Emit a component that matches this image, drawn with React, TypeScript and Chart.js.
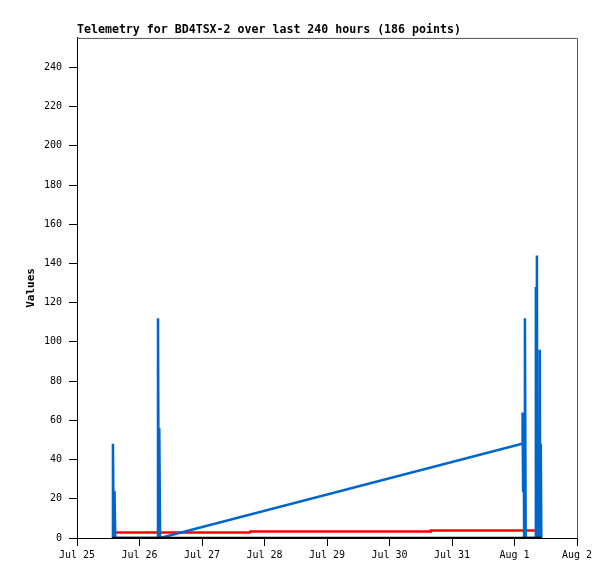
import { useEffect, useRef } from 'react';
import Chart from 'chart.js/auto';

// hours since Jul 25 00:00
const blueHours = [13.5, 13.8, 14.1, 14.4, 14.7, 30.9, 31.1, 31.4, 31.6, 31.9, 170.9, 171.1, 171.3, 171.5, 171.7, 172.0, 172.3, 176.0, 176.2, 176.4, 176.6, 176.8, 177.5, 177.7, 177.9, 178.1, 178.3];
const blueValues = [0, 48, 0, 24, 0, 0, 112, 0, 56, 0, 48, 64, 24, 64, 0, 112, 0, 0, 128, 0, 144, 0, 0, 96, 0, 48, 0];

const redHours = [14.6, 66.3, 66.5, 135.7, 135.9, 176.6, 177.3];
const redValues = [2.8, 2.8, 3.3, 3.3, 3.8, 3.8, 1];

const blackHours = [13.6, 60, 120, 178.3];
const blackValues = [0, 0, 0, 0];

const xTickLabels = ['Jul 25', 'Jul 26', 'Jul 27', 'Jul 28', 'Jul 29', 'Jul 30', 'Jul 31', 'Aug 1', 'Aug 2'];

const toPoints = (xs: number[], ys: number[]) => xs.map((x, i) => ({ x, y: ys[i] }));

const frame = {
    id: 'frame',
    afterDraw(chart: Chart) {
        const { ctx, chartArea } = chart;
        ctx.save();
        ctx.strokeStyle = '#555555';
        ctx.lineWidth = 1;
        ctx.beginPath();
        ctx.moveTo(chartArea.left, chartArea.top + 0.5);
        ctx.lineTo(chartArea.right + 0.5, chartArea.top + 0.5);
        ctx.lineTo(chartArea.right + 0.5, chartArea.bottom);
        ctx.stroke();
        ctx.restore();
    }
};

export default function App() {
    const canvasRef = useRef<HTMLCanvasElement>(null);

    useEffect(() => {
        if (!canvasRef.current) return;
        const mono = 'DejaVu Sans Mono';

        const chart = new Chart(canvasRef.current, {
            type: 'line',
            data: {
                datasets: [
                    { data: toPoints(blackHours, blackValues), borderColor: '#000000', borderWidth: 2.5, pointRadius: 0, tension: 0 },
                    { data: toPoints(blueHours, blueValues), borderColor: '#0066CC', borderWidth: 2.5, pointRadius: 0, tension: 0 },
                    { data: toPoints(redHours, redValues), borderColor: '#FF0000', borderWidth: 2.5, pointRadius: 0, tension: 0 }
                ]
            },
            options: {
                animation: false,
                responsive: false,
                devicePixelRatio: 1,
                layout: { padding: { left: 0, right: 38, top: 0, bottom: 0 } },
                plugins: {
                    legend: { display: false },
                    tooltip: { enabled: false },
                    title: {
                        display: true,
                        text: 'Telemetry for BD4TSX-2 over last 240 hours (186 points)',
                        align: 'start',
                        fullSize: false,
                        color: '#000000',
                        font: { family: mono, size: 11.6, weight: 'bold' },
                        padding: { top: 23, bottom: 1 }
                    }
                },
                scales: {
                    x: {
                        type: 'linear',
                        min: 0,
                        max: 192,
                        border: { color: '#000000' },
                        grid: { drawOnChartArea: false, color: '#000000', tickLength: 8 },
                        ticks: {
                            stepSize: 24,
                            autoSkip: false,
                            maxRotation: 0,
                            padding: 3,
                            color: '#000000',
                            font: { family: mono, size: 10 },
                            callback: (v) => xTickLabels[Math.round(Number(v) / 24)] ?? ''
                        },
                        afterFit: (scale) => { scale.height = 41; }
                    },
                    y: {
                        min: 0,
                        max: 255,
                        border: { color: '#000000' },
                        grid: { drawOnChartArea: false, color: '#000000', tickLength: 8 },
                        ticks: {
                            stepSize: 20,
                            padding: 7,
                            color: '#000000',
                            font: { family: mono, size: 10 }
                        },
                        afterBuildTicks: (scale) => {
                            scale.ticks = scale.ticks.filter((t) => t.value % 20 === 0);
                        },
                        title: {
                            display: true,
                            text: 'Values',
                            color: '#000000',
                            font: { family: mono, size: 11, weight: 'bold' },
                            padding: { top: 25, bottom: 0 }
                        },
                        afterFit: (scale) => { scale.width = 77; }
                    }
                }
            },
            plugins: [frame]
        });

        return () => chart.destroy();
    }, []);

    return (
        <div style={{ position: 'absolute', left: 0, top: 0, width: 615, height: 579 }}>
            <canvas ref={canvasRef} width={615} height={579} style={{ width: '615px', height: '579px' }} />
        </div>
    );
}
